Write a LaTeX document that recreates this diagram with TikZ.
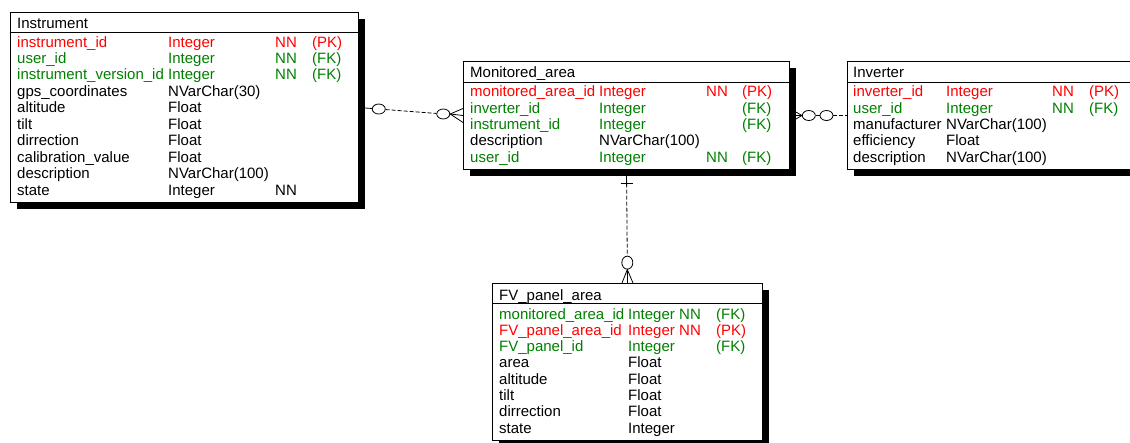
\documentclass[tikz,border=0pt]{standalone}
\usepackage{fontspec}
\setmainfont{Liberation Sans}
\usepackage{tikz}
\usetikzlibrary{shapes.geometric,shadows,backgrounds,calc}
\definecolor{pkred}{RGB}{255,0,0}
\definecolor{fkgreen}{RGB}{0,128,0}

\begin{document}
\begin{tikzpicture}[x=1pt,y=-1pt,
        every node/.style={font=\fontsize{15}{18}\selectfont},
        entitybox/.style={draw=black, line width=1pt, fill=white, anchor=north west, inner sep=0pt,
            drop shadow={shadow xshift=6pt, shadow yshift=-6pt, fill=black, opacity=1}},
        field/.style={anchor=base west, inner sep=0pt},
        pk/.style={field, text=pkred},
        fk/.style={field, text=fkgreen},
        relline/.style={line width=0.8pt, dash pattern=on 4pt off 2pt},
        foot/.style={line width=0.8pt},
        ring/.style={draw, solid, fill=white, ellipse, inner sep=0pt, line width=0.8pt,
            minimum width=13pt, minimum height=10pt}]
        \useasboundingbox (0,0) rectangle (1130,442);

        \node [entitybox, minimum width=348pt, minimum height=190pt] (ins) at (10,12) {};
        \node [entitybox, minimum width=326pt, minimum height=108pt] (mon) at (463,61) {};
        \node [entitybox, minimum width=300pt, minimum height=108pt] (inv) at (847,61) {};
        \node [entitybox, minimum width=270pt, minimum height=157pt] (fv) at (492,283) {};
        \draw [line width=1pt] ($(ins.north west)+(0,20)$) -- ($(ins.north east)+(0,20)$);
        \draw [line width=1pt] ($(mon.north west)+(0,21)$) -- ($(mon.north east)+(0,21)$);
        \draw [line width=1pt] ($(inv.north west)+(0,21)$) -- ($(inv.north east)+(0,21)$);
        \draw [line width=1pt] ($(fv.north west)+(0,20)$) -- ($(fv.north east)+(0,20)$);

        % Instrument
        \node [field] (ins0) at (17,28) {Instrument};
        \node [pk] (ins1n) at (17,47) {instrument\_id};
        \node [pk] (ins1t) at (168,47) {Integer};
        \node [pk] (ins1nn) at (275,47) {NN};
        \node [pk] (ins1k) at (312,47) {(PK)};
        \node [fk] (ins2n) at (17,63.4) {user\_id};
        \node [fk] (ins2t) at (168,63.4) {Integer};
        \node [fk] (ins2nn) at (275,63.4) {NN};
        \node [fk] (ins2k) at (312,63.4) {(FK)};
        \node [fk] (ins3n) at (17,79.9) {instrument\_version\_id};
        \node [fk] (ins3t) at (168,79.9) {Integer};
        \node [fk] (ins3nn) at (275,79.9) {NN};
        \node [fk] (ins3k) at (312,79.9) {(FK)};
        \node [field] (ins4n) at (17,96.3) {gps\_coordinates};
        \node [field] (ins4t) at (168,96.3) {NVarChar(30)};
        \node [field] (ins5n) at (17,112.8) {altitude};
        \node [field] (ins5t) at (168,112.8) {Float};
        \node [field] (ins6n) at (17,129.2) {tilt};
        \node [field] (ins6t) at (168,129.2) {Float};
        \node [field] (ins7n) at (17,145.6) {dirrection};
        \node [field] (ins7t) at (168,145.6) {Float};
        \node [field] (ins8n) at (17,162.1) {calibration\_value};
        \node [field] (ins8t) at (168,162.1) {Float};
        \node [field] (ins9n) at (17,178.5) {description};
        \node [field] (ins9t) at (168,178.5) {NVarChar(100)};
        \node [field] (ins10n) at (17,195) {state};
        \node [field] (ins10t) at (168,195) {Integer};
        \node [field] (ins10nn) at (275,195) {NN};

        % Monitored_area
        \node [field] (mon0) at (470,77) {Monitored\_area};
        \node [pk] (mon1n) at (470,96.7) {monitored\_area\_id};
        \node [pk] (mon1t) at (599,96.7) {Integer};
        \node [pk] (mon1nn) at (706,96.7) {NN};
        \node [pk] (mon1k) at (742,96.7) {(PK)};
        \node [fk] (mon2n) at (470,113.1) {inverter\_id};
        \node [fk] (mon2t) at (599,113.1) {Integer};
        \node [fk] (mon2k) at (742,113.1) {(FK)};
        \node [fk] (mon3n) at (470,129.5) {instrument\_id};
        \node [fk] (mon3t) at (599,129.5) {Integer};
        \node [fk] (mon3k) at (742,129.5) {(FK)};
        \node [field] (mon4n) at (470,145.9) {description};
        \node [field] (mon4t) at (599,145.9) {NVarChar(100)};
        \node [fk] (mon5n) at (470,162.3) {user\_id};
        \node [fk] (mon5t) at (599,162.3) {Integer};
        \node [fk] (mon5nn) at (706,162.3) {NN};
        \node [fk] (mon5k) at (742,162.3) {(FK)};

        % Inverter
        \node [field] (inv0) at (853,77) {Inverter};
        \node [pk] (inv1n) at (853,96.7) {inverter\_id};
        \node [pk] (inv1t) at (946,96.7) {Integer};
        \node [pk] (inv1nn) at (1052,96.7) {NN};
        \node [pk] (inv1k) at (1089,96.7) {(PK)};
        \node [fk] (inv2n) at (853,113.1) {user\_id};
        \node [fk] (inv2t) at (946,113.1) {Integer};
        \node [fk] (inv2nn) at (1052,113.1) {NN};
        \node [fk] (inv2k) at (1089,113.1) {(FK)};
        \node [field] (inv3n) at (853,129.5) {manufacturer};
        \node [field] (inv3t) at (946,129.5) {NVarChar(100)};
        \node [field] (inv4n) at (853,145.9) {efficiency};
        \node [field] (inv4t) at (946,145.9) {Float};
        \node [field] (inv5n) at (853,162.3) {description};
        \node [field] (inv5t) at (946,162.3) {NVarChar(100)};

        % FV_panel_area
        \node [field] (fv0) at (499,300) {FV\_panel\_area};
        \node [fk] (fv1n) at (499,319) {monitored\_area\_id};
        \node [fk] (fv1t) at (628,319) {Integer};
        \node [fk] (fv1nn) at (679,319) {NN};
        \node [fk] (fv1k) at (716,319) {(FK)};
        \node [pk] (fv2n) at (499,335.3) {FV\_panel\_area\_id};
        \node [pk] (fv2t) at (628,335.3) {Integer};
        \node [pk] (fv2nn) at (679,335.3) {NN};
        \node [pk] (fv2k) at (716,335.3) {(PK)};
        \node [fk] (fv3n) at (499,351.6) {FV\_panel\_id};
        \node [fk] (fv3t) at (628,351.6) {Integer};
        \node [fk] (fv3k) at (716,351.6) {(FK)};
        \node [field] (fv4n) at (499,367.9) {area};
        \node [field] (fv4t) at (628,367.9) {Float};
        \node [field] (fv5n) at (499,384.2) {altitude};
        \node [field] (fv5t) at (628,384.2) {Float};
        \node [field] (fv6n) at (499,400.5) {tilt};
        \node [field] (fv6t) at (628,400.5) {Float};
        \node [field] (fv7n) at (499,416.8) {dirrection};
        \node [field] (fv7t) at (628,416.8) {Float};
        \node [field] (fv8n) at (499,433.1) {state};
        \node [field] (fv8t) at (628,433.1) {Integer};

        \begin{scope}[on background layer]
            \fill [white] (0,0) rectangle (1130,442);

            % Instrument -- Monitored_area
            \path (ins.east) -- (mon.west)
                node [ring, pos=0.19] (insring) {}
                node [ring, pos=0.81] (monring1) {};
            \draw [foot] (ins.east) -- (insring);
            \draw [relline] (insring) -- (monring1);
            \draw [foot] ($(mon.west)+(0,-7)$) -- (monring1.east) -- ($(mon.west)+(0,7)$);
            \draw [foot] (monring1.east) -- (mon.west);

            % Monitored_area -- Inverter
            \path (mon.east) -- (inv.west)
                node [ring, pos=0.33] (monring2) {}
                node [ring, pos=0.64] (invring) {};
            \draw [foot] ($(mon.east)+(0,-7)$) -- (monring2.west) -- ($(mon.east)+(0,7)$);
            \draw [foot] (monring2.west) -- (mon.east);
            \draw [foot] (monring2) -- (invring);
            \draw [relline] (invring) -- (inv.west);

            % Monitored_area -- FV_panel_area
            \path (mon.south) -- (fv.north)
                node [coordinate, pos=0.12] (monbar) {}
                node [ring, pos=0.82, minimum width=11pt, minimum height=13pt] (fvring) {};
            \draw [foot] (mon.south) -- (monbar);
            \draw [foot] ($(monbar)+(-6,0)$) -- ($(monbar)+(6,0)$);
            \draw [relline] (monbar) -- (fvring);
            \draw [foot] ($(fv.north)+(-5.5,0)$) -- (fvring.south) -- ($(fv.north)+(5.5,0)$);
            \draw [foot] (fvring.south) -- (fv.north);
        \end{scope}
    \end{tikzpicture}
\end{document}
